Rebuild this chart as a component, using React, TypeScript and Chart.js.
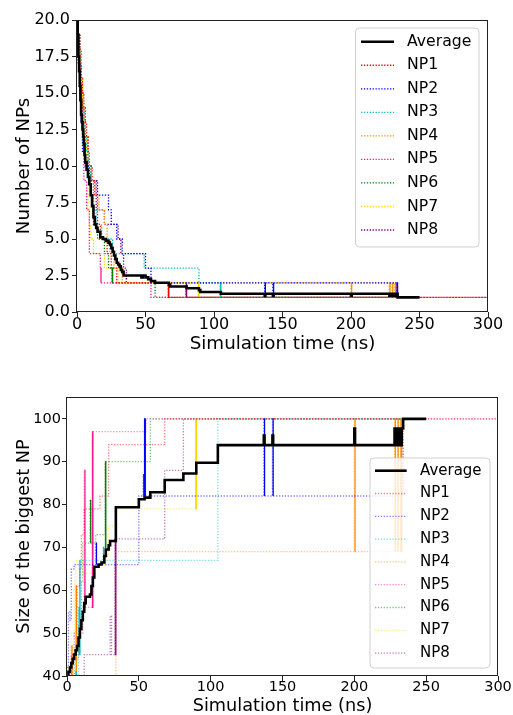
import React, { useEffect, useRef } from "react";
import { Chart, registerables } from "chart.js";

Chart.register(...registerables);

type Pt = [number, number];

const FONT = "'DejaVu Sans', sans-serif";

// ---- tick labels ----
const timeTicks = [0, 50, 100, 150, 200, 250, 300];
const countTicks = [0, 2.5, 5, 7.5, 10, 12.5, 15, 17.5, 20];
const sizeTicks = [40, 50, 60, 70, 80, 90, 100];

// ---- series names / colours ----
const npLabels = ["NP1", "NP2", "NP3", "NP4", "NP5", "NP6", "NP7", "NP8"];
const npRgb = ["255,0,0", "0,0,255", "0,191,191", "255,140,0", "255,20,147", "0,128,0", "255,215,0", "128,0,128"];

// ---- top chart: number of NPs vs time (ns) ----
const countAverage: Pt[] = [
  [0, 20], [0.5, 19], [1, 17.5], [1.5, 16.5], [2, 15.5], [2.5, 14.5], [3, 13.5], [3.5, 13], [4, 12.5], [4.5, 12],
  [5, 11.5], [5.5, 10.75], [6, 10.25], [7, 9.75], [8, 9.25], [9, 8.75], [10, 8], [11, 7.25], [12, 6.5], [13, 6],
  [14, 5.75], [15, 5.5], [17, 5.125], [19, 5], [21, 4.875], [23, 4.75], [24, 4.625], [25, 4.375], [26, 4.125],
  [27, 3.875], [28, 3.625], [29, 3.375], [30, 3.25], [31, 3.125], [32, 2.875], [33, 2.75], [34, 2.5], [47, 2.375],
  [48, 2.5], [50, 2.375], [52, 2.25], [54, 2.125], [57, 2], [67, 1.875], [68, 1.75], [80, 1.625], [89, 1.5],
  [90, 1.375], [105, 1.25], [137, 1.125], [137.5, 1.25], [143, 1.125], [143.5, 1.25], [200, 1.125], [200.5, 1.25],
  [228, 1.125], [228.5, 1.25], [230, 1.125], [230.5, 1.25], [232, 1.125], [232.5, 1.25], [234, 1], [250, 1],
];
const countNP1: Pt[] = [
  [0, 20], [1, 19], [2, 18], [3, 16], [4, 15], [5, 14], [6, 13], [7, 12], [8, 11], [9, 10], [11, 9], [13, 8],
  [15, 6], [17, 5], [22, 4], [25, 3], [29, 2], [66.6, 1], [66.8, 2], [67, 1], [300, 1],
];
const countNP2: Pt[] = [
  [0, 20], [1, 17], [2, 15], [3, 13], [4, 11], [6, 10], [9, 9], [15, 8], [23, 7], [25, 6], [29, 5], [33, 4],
  [50, 3], [54, 2], [137, 1], [137.5, 2], [143, 1], [143.5, 2], [233.6, 1], [233.8, 2], [234, 1], [250, 1],
];
const countNP3: Pt[] = [
  [0, 20], [1, 18], [2, 16], [3, 14], [5, 12], [7, 11], [8, 10], [10, 9], [12, 7], [14, 6], [18, 5], [26, 4],
  [49, 3], [89, 2], [104.6, 1], [104.8, 2], [105, 1], [250, 1],
];
const countNP4: Pt[] = [
  [0, 20], [1, 18], [2, 17], [3, 16], [4, 14], [6, 12], [8, 10], [10, 9], [12, 8], [16, 7], [20, 6], [22, 5],
  [24, 4], [27, 3], [33, 2], [200, 1], [200.5, 2], [228, 1], [228.5, 2], [230, 1], [230.5, 2], [232, 1],
  [232.5, 2], [233, 1], [250, 1],
];
const countNP5: Pt[] = [
  [0, 20], [1, 17], [2, 16], [3, 15], [4, 13], [5, 9], [7, 7], [9, 4], [17, 3], [17.5, 2], [54, 1], [300, 1],
];
const countNP6: Pt[] = [
  [0, 20], [1, 19], [2, 17], [3, 15], [4, 14], [5, 13], [6, 11], [8, 10], [10, 8], [12, 6], [15, 5], [20, 4],
  [23, 3], [25.6, 2], [25.8, 3], [26, 2], [57, 1], [250, 1],
];
const countNP7: Pt[] = [
  [0, 20], [0.5, 19], [1, 18], [2, 17], [3, 16], [4, 14], [5, 12], [7, 10], [8, 7], [9, 6], [10, 5], [12, 4],
  [20, 3], [30, 2], [88.6, 1], [88.8, 2], [89, 1], [250, 1],
];
const countNP8: Pt[] = [
  [0, 20], [1, 19], [2, 17], [3, 15], [4, 13], [6, 12], [8, 10], [10, 9], [14, 7], [20, 6], [30, 5], [32, 4],
  [34, 3], [36, 2], [79.6, 1], [79.8, 2], [80, 1], [250, 1],
];

// ---- bottom chart: size of the biggest NP vs time (ns) ----
const sizeAverage: Pt[] = [
  [0, 40], [1, 41], [2, 42], [3, 43], [4, 44], [5, 45], [6, 46], [7, 47], [8, 49], [9, 51], [10, 53], [11, 55],
  [12, 57], [13, 58.5], [16, 59], [17, 61], [18, 63], [19, 65.5], [22, 66], [24, 66.5], [26, 68], [27, 69.5],
  [29, 70.5], [30, 71.5], [34, 79.375], [50, 81.25], [54, 81.625], [58, 82.875], [68, 85.75], [81, 87.25],
  [90, 89.75], [105, 93.875], [137, 96.125], [137.5, 93.875], [143, 96.125], [143.5, 93.875], [200, 97.75],
  [200.5, 93.875], [228, 97.75], [228.5, 93.875], [230, 97.75], [230.5, 93.875], [232, 97.75], [232.5, 93.875],
  [233, 97.75], [234, 100], [250, 100],
];
const sizeNP1: Pt[] = [
  [0, 38], [3, 45], [5, 50], [7, 61], [9, 65], [10, 73], [12, 79], [23, 82], [29, 94], [68, 100], [300, 100],
];
const sizeNP2: Pt[] = [
  [0, 42], [1, 55], [2, 53], [3, 65], [5, 66], [20, 71], [20.5, 66], [50, 82], [53, 87], [53.5, 82], [54, 100],
  [54.5, 82], [137, 100], [137.5, 82], [143, 100], [143.5, 82], [234, 100], [250, 100],
];
const sizeNP3: Pt[] = [
  [0, 36], [6, 41], [6.5, 36], [8, 56], [8.5, 45], [9, 67], [25, 70], [25.5, 67], [105, 100], [250, 100],
];
const sizeNP4: Pt[] = [
  [0, 30], [3, 47], [3.5, 30], [6, 61], [6.5, 30], [34, 69], [200, 100], [200.5, 69], [228, 100], [228.5, 69],
  [230, 100], [230.5, 69], [232, 100], [232.5, 69], [233, 100], [250, 100],
];
const sizeNP5: Pt[] = [
  [0, 38], [4, 44], [8, 50], [11, 56], [12, 88], [12.5, 56], [17.6, 97], [17.8, 56], [18, 97], [55, 100], [300, 100],
];
const sizeNP6: Pt[] = [
  [0, 38], [5, 45], [8, 52], [10, 62], [11, 71], [16, 81], [16.5, 71], [20, 73], [26.6, 90], [26.8, 70],
  [27, 90], [58, 100], [250, 100],
];
const sizeNP7: Pt[] = [
  [0, 40], [3, 50], [5, 62], [6, 67], [11, 64], [18, 66], [27, 68], [29, 75], [34, 79], [89.5, 100], [89.7, 79],
  [90, 100], [250, 100],
];
const sizeNP8: Pt[] = [
  [0, 38], [12, 45], [30, 54], [31, 45], [33.5, 72], [33.7, 45], [34, 72], [68, 88], [81, 100], [250, 100],
];

const countNPs = [countNP1, countNP2, countNP3, countNP4, countNP5, countNP6, countNP7, countNP8];
const sizeNPs = [sizeNP1, sizeNP2, sizeNP3, sizeNP4, sizeNP5, sizeNP6, sizeNP7, sizeNP8];

const DASH = [1.3, 1.6];

function toXY(pts: Pt[]) {
  return pts.map(([x, y]) => ({ x, y }));
}

function npDataset(label: string, rgb: string, pts: Pt[], alpha: number) {
  const faint = `rgba(${rgb},${alpha})`;
  const solid = `rgb(${rgb})`;
  const quick = (c: any) => {
    const a = c.p0 && c.p0.parsed ? c.p0.parsed.x : 0;
    const b = c.p1 && c.p1.parsed ? c.p1.parsed.x : 10;
    return b - a < 1;
  };
  return {
    label,
    data: toXY(pts),
    borderColor: faint,
    borderWidth: 1.3,
    borderDash: DASH,
    stepped: "before" as const,
    pointRadius: 0,
    fill: false,
    segment: {
      borderColor: (c: any) => (quick(c) ? solid : undefined),
      borderDash: (c: any) => (quick(c) ? [] : undefined),
    },
  };
}

const decor = {
  id: "decor",
  afterDatasetsDraw(chart: any, _args: any, opts: any) {
    const { ctx, chartArea } = chart;
    ctx.save();
    // frame (all four spines)
    ctx.strokeStyle = "#222";
    ctx.lineWidth = 1;
    ctx.setLineDash([]);
    ctx.strokeRect(chartArea.left - 0.5, chartArea.top + 0.5, chartArea.right - chartArea.left, chartArea.bottom - chartArea.top - 1);
    // legend box
    const L = opts;
    const r = 4;
    ctx.beginPath();
    ctx.moveTo(L.x + r, L.y);
    ctx.lineTo(L.x + L.w - r, L.y);
    ctx.arcTo(L.x + L.w, L.y, L.x + L.w, L.y + r, r);
    ctx.lineTo(L.x + L.w, L.y + L.h - r);
    ctx.arcTo(L.x + L.w, L.y + L.h, L.x + L.w - r, L.y + L.h, r);
    ctx.lineTo(L.x + r, L.y + L.h);
    ctx.arcTo(L.x, L.y + L.h, L.x, L.y + L.h - r, r);
    ctx.lineTo(L.x, L.y + r);
    ctx.arcTo(L.x, L.y, L.x + r, L.y, r);
    ctx.closePath();
    ctx.fillStyle = "rgba(255,255,255,0.8)";
    ctx.fill();
    ctx.strokeStyle = "#d0d0d0";
    ctx.lineWidth = 1;
    ctx.stroke();
    chart.data.datasets.forEach((ds: any, i: number) => {
      const y = L.firstRow + i * L.rowGap;
      ctx.beginPath();
      ctx.setLineDash(ds.borderDash || []);
      ctx.lineWidth = ds.borderWidth;
      ctx.strokeStyle = ds.borderColor;
      ctx.moveTo(L.lineX0, y);
      ctx.lineTo(L.lineX1, y);
      ctx.stroke();
      ctx.setLineDash([]);
      ctx.fillStyle = "#000";
      ctx.font = `${L.size}px ${FONT}`;
      ctx.textAlign = "left";
      ctx.textBaseline = "middle";
      ctx.fillText(ds.label, L.textX, y);
    });
    ctx.restore();
  },
};

interface Spec {
  avg: Pt[];
  nps: Pt[][];
  alpha: number;
  yTitle: string;
  yMin: number;
  yMax: number;
  yTicks: number[];
  yFmt: (v: number) => string;
  padding: { left: number; right: number; top: number; bottom: number };
  yWidth: number;
  xHeight: number;
  tickSize: number;
  titleSize: number;
  xTickPad: number;
  yTickPad: number;
  xTitlePad: number;
  yTitlePad: number;
  legend: any;
}

function buildConfig(s: Spec): any {
  const datasets: any[] = [
    {
      label: "Average",
      data: toXY(s.avg),
      borderColor: "#000",
      borderWidth: 2.6,
      stepped: "before",
      pointRadius: 0,
      fill: false,
    },
    ...s.nps.map((pts, i) => npDataset(npLabels[i], npRgb[i], pts, s.alpha)),
  ];
  const tickFont = { family: FONT, size: s.tickSize, lineHeight: 1 };
  const titleFont = { family: FONT, size: s.titleSize, lineHeight: 1.2 };
  return {
    type: "line",
    data: { datasets },
    plugins: [decor],
    options: {
      responsive: false,
      animation: false,
      events: [],
      layout: { padding: s.padding },
      plugins: {
        legend: { display: false },
        tooltip: { enabled: false },
        decor: s.legend,
      },
      scales: {
        x: {
          type: "linear",
          min: 0,
          max: 300,
          afterBuildTicks: (sc: any) => {
            sc.ticks = timeTicks.map((v) => ({ value: v }));
          },
          afterFit: (sc: any) => {
            sc.height = s.xHeight;
          },
          ticks: {
            font: tickFont,
            color: "#000",
            padding: s.xTickPad,
            maxRotation: 0,
            autoSkip: false,
            callback: (v: any) => String(v),
          },
          grid: { drawOnChartArea: false, drawTicks: true, tickLength: 5, color: "#222", lineWidth: 1 },
          border: { display: false },
          title: {
            display: true,
            text: "Simulation time (ns)",
            color: "#000",
            font: titleFont,
            padding: { top: 0, bottom: s.xTitlePad },
          },
        },
        y: {
          type: "linear",
          min: s.yMin,
          max: s.yMax,
          afterBuildTicks: (sc: any) => {
            sc.ticks = s.yTicks.map((v) => ({ value: v }));
          },
          afterFit: (sc: any) => {
            sc.width = s.yWidth;
          },
          ticks: {
            font: tickFont,
            color: "#000",
            padding: s.yTickPad,
            autoSkip: false,
            callback: (v: any) => s.yFmt(Number(v)),
          },
          grid: { drawOnChartArea: false, drawTicks: true, tickLength: 5, color: "#222", lineWidth: 1 },
          border: { display: false },
          title: {
            display: true,
            text: s.yTitle,
            color: "#000",
            font: titleFont,
            padding: { top: s.yTitlePad, bottom: 0 },
          },
        },
      },
    },
  };
}

const topSpec: Spec = {
  avg: countAverage,
  nps: countNPs,
  alpha: 1,
  yTitle: "Number of NPs",
  yMin: 0,
  yMax: 20,
  yTicks: countTicks,
  yFmt: (v) => v.toFixed(1),
  padding: { left: 0, right: 25, top: 20, bottom: 0 },
  yWidth: 77,
  xHeight: 43,
  tickSize: 16,
  titleSize: 18.3,
  xTickPad: -0.6,
  yTickPad: 2,
  xTitlePad: 0,
  yTitlePad: 13.3,
  legend: { x: 355.5, y: 28, w: 123.5, h: 219, firstRow: 41.7, rowGap: 23.54, lineX0: 361, lineX1: 394, textX: 407, size: 15.7 },
};

const bottomSpec: Spec = {
  avg: sizeAverage,
  nps: sizeNPs,
  alpha: 0.5,
  yTitle: "Size of the biggest NP",
  yMin: 40,
  yMax: 105.1,
  yTicks: sizeTicks,
  yFmt: (v) => String(v),
  padding: { left: 0, right: 15, top: 42, bottom: 0 },
  yWidth: 67,
  xHeight: 39,
  tickSize: 14.5,
  titleSize: 17.7,
  xTickPad: -1.2,
  yTickPad: 1,
  xTitlePad: -1.7,
  yTitlePad: 13.3,
  legend: { x: 370, y: 103, w: 120, h: 210, firstRow: 115.7, rowGap: 22.8, lineX0: 375, lineX1: 406.7, textX: 420, size: 15 },
};

export default function App() {
  const topRef = useRef<HTMLCanvasElement>(null);
  const botRef = useRef<HTMLCanvasElement>(null);
  useEffect(() => {
    Chart.defaults.font.family = FONT;
    const a = new Chart(topRef.current as HTMLCanvasElement, buildConfig(topSpec));
    const b = new Chart(botRef.current as HTMLCanvasElement, buildConfig(bottomSpec));
    return () => {
      a.destroy();
      b.destroy();
    };
  }, []);
  return (
    <div style={{ position: "absolute", left: 0, top: 0, width: 513, height: 715, overflow: "hidden", background: "#fff" }}>
      <canvas ref={topRef} width={513} height={355} style={{ position: "absolute", left: 0, top: 0, width: 513, height: 355 }} />
      <canvas ref={botRef} width={513} height={360} style={{ position: "absolute", left: 0, top: 355, width: 513, height: 360 }} />
    </div>
  );
}
